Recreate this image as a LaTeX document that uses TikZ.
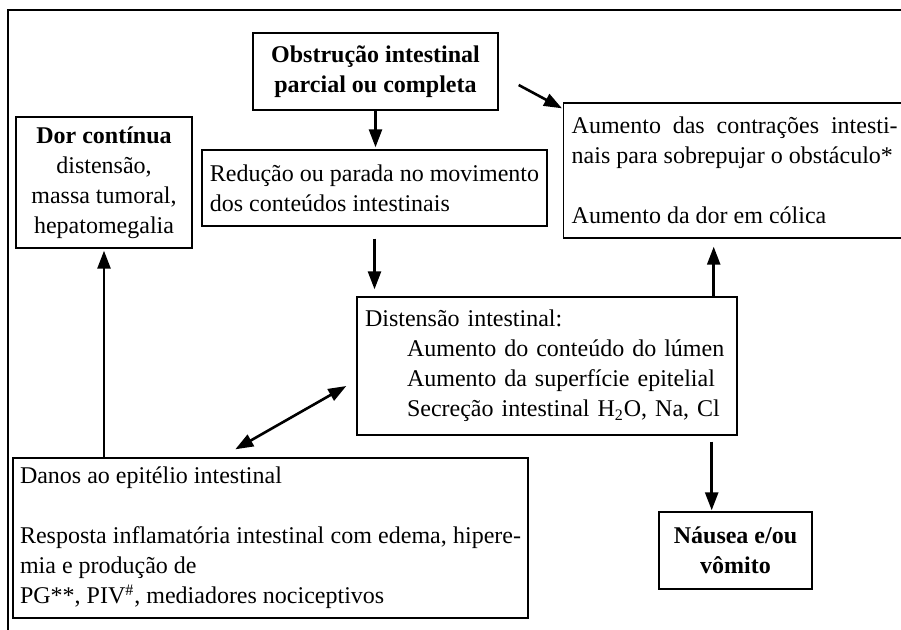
\documentclass[tikz,border=0pt]{standalone}
\usepackage{fontspec}
\setmainfont{Liberation Serif}
\usetikzlibrary{positioning,calc,arrows.meta}

\begin{document}
\begin{tikzpicture}[
				font=\fontsize{12}{15}\selectfont,
				box/.style={rectangle, draw, line width=0.7pt, inner sep=4pt},
				arrow/.style={-{Triangle[length=9pt,width=6.5pt]}, line width=1.3pt},
				dblarrow/.style={{Triangle[length=9pt,width=6.5pt]}-{Triangle[length=9pt,width=6.5pt]}, line width=1.3pt}
				]
				\useasboundingbox (0,0) rectangle (450.5pt,-314.5pt);
				% Moldura
				\draw[line width=0.7pt] (4pt,-320pt) -- (4pt,-5pt) -- (460pt,-5pt);
				
				% Caixas
				\node[box, minimum width=122.5pt, minimum height=38.5pt, align=center, font=\fontsize{12}{15}\selectfont\bfseries] (obs) at (187.75pt,-35.75pt) {Obstrução intestinal\\parcial ou completa};
				\node[box, minimum width=88pt, minimum height=65.5pt, align=center] (dor) at (52pt,-91.25pt) {\textbf{Dor contínua}\\distensão,\\massa tumoral,\\hepatomegalia};
				\node[box, minimum width=172.5pt, minimum height=38pt, align=left] (red) at (187.25pt,-94pt) {Redução ou parada no movimento\\dos conteúdos intestinais};
				\node[box, anchor=west, text width=163pt, minimum height=67.5pt, align=justify] (aum) at (281.5pt,-85.25pt) {Aumento das contrações intesti-\linebreak nais para sobrepujar o obstáculo*\\[15pt]Aumento da dor em cólica};
				\node[box, text width=182pt, minimum height=69pt, align=left] (dist) at (273.5pt,-183pt) {Distensão intestinal:\\\hspace*{21pt}Aumento do conteúdo do lúmen\\\hspace*{21pt}Aumento da superfície epitelial\\\hspace*{21pt}Secreção intestinal H\textsubscript{2}O, Na, Cl};
				\node[box, inner xsep=3.5pt, text width=250.5pt, minimum height=80pt, align=justify] (danos) at (135.25pt,-269pt) {Danos ao epitélio intestinal\\[15pt]Resposta inflamatória intestinal com edema, hipere-\linebreak mia e produção de\\PG**, PIV\textsuperscript{\#}, mediadores nociceptivos};
				\node[box, minimum width=76.5pt, minimum height=38.5pt, align=center, font=\fontsize{12}{15}\selectfont\bfseries] (naus) at (367.75pt,-275.25pt) {Náusea e/ou\\vômito};
				
				% Setas
				\draw[arrow, shorten >=1pt] (obs.south) -- (obs.south |- red.north);
				\draw[arrow] ($(obs.east)+(10pt,-6.75pt)$) -- ($(aum.north west)+(-0.5pt,-3pt)$);
				\draw[arrow, shorten <=6pt, shorten >=3.5pt] (red.south) -- (red.south |- dist.north);
				\coordinate (up) at ($(dist.north east)+(-12pt,0)$);
				\draw[arrow, shorten >=4pt] (up) -- (up |- aum.south);
				\coordinate (down) at ($(dist.south east)+(-13pt,0)$);
				\draw[arrow, shorten <=3pt, shorten >=0.5pt] (down) -- (down |- naus.north);
				\draw[dblarrow] ($(dist.west)+(-5pt,-10pt)$) -- ($(danos.north west)+(111.5pt,4pt)$);
				\draw[arrow, shorten >=1pt] (dor.south |- danos.north) -- (dor.south);
			\end{tikzpicture}
\end{document}
